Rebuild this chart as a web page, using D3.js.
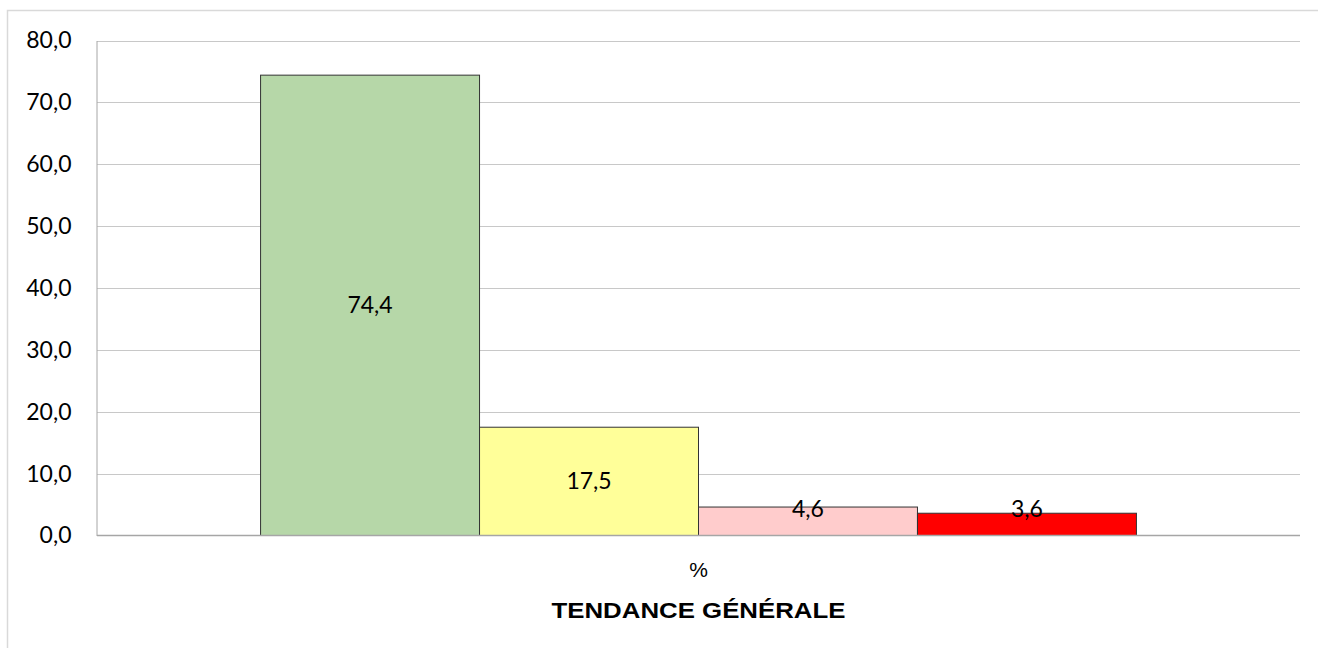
<!DOCTYPE html>
<html><head><meta charset="utf-8">
<script src="https://cdn.jsdelivr.net/npm/d3@7"></script>
<style>body{margin:0;background:#fff}svg{display:block}</style>
</head><body>
<script>
const series = ["S1","S2","S3","S4"];
const values = [74.4, 17.5, 4.6, 3.6];
const colors = ["#b6d7a8","#ffff99","#ffcccc","#ff0000"];
const tickValues = [0,10,20,30,40,50,60,70,80];
const category = "%";
const title = "TENDANCE GÉNÉRALE";

(function(){
const W = 1318, H = 648;
const svg = d3.select("body").append("svg").attr("width", W).attr("height", H);
svg.append("rect").attr("x",7.5).attr("y",10.5).attr("width",W).attr("height",H)
  .attr("fill","#fff").attr("stroke","#d9d9d9").attr("stroke-width",1.5);

const pLeft = 97, pRight = 1300, pTop = 40.5, pBottom = 535.5;
const y = d3.scaleLinear().domain([0,80]).range([pBottom, pTop]);
const x = d3.scaleBand().domain(series).range([pLeft, pRight]).paddingInner(0).paddingOuter(0.747);

const fmt = v => d3.format(".1f")(v).replace(".", ",");
const numFont = "Lato, 'Open Sans', sans-serif";

// gridlines
svg.append("g").selectAll("line").data(tickValues.filter(d=>d>0)).join("line")
  .attr("x1", pLeft).attr("x2", pRight)
  .attr("y1", d => Math.round(y(d))+0.5).attr("y2", d => Math.round(y(d))+0.5)
  .attr("stroke","#c8c8c8").attr("stroke-width",1);

// y axis
const yAxis = d3.axisLeft(y).tickValues(tickValues).tickFormat(fmt).tickSize(0).tickPadding(25);
const gy = svg.append("g").attr("transform",`translate(${pLeft-0.5},0)`).call(yAxis);
gy.select(".domain").attr("stroke","#a6a6a6");
gy.selectAll("text").attr("font-family",numFont).attr("font-size",23).attr("fill","#000");

// bars
svg.append("g").selectAll("rect").data(values).join("rect")
  .attr("x",(d,i)=>x(series[i])).attr("width",x.bandwidth())
  .attr("y",d=>y(d)).attr("height",d=>y(0)-y(d))
  .attr("fill",(d,i)=>colors[i]).attr("stroke","#333").attr("stroke-width",1);

// x axis baseline
svg.append("line").attr("x1",pLeft).attr("x2",pRight).attr("y1",pBottom).attr("y2",pBottom)
  .attr("stroke","#a6a6a6").attr("stroke-width",1.5);

// labels
svg.append("g").selectAll("text").data(values).join("text")
  .attr("x",(d,i)=>x(series[i])+x.bandwidth()/2)
  .attr("y",d=>Math.min((y(d)+y(0))/2, y(0)-27))
  .attr("dy","0.35em").attr("text-anchor","middle")
  .attr("font-family",numFont).attr("font-size",23).attr("fill","#000")
  .text(fmt);

// category label
svg.append("text").attr("x",(pLeft+pRight)/2).attr("y",577)
  .attr("text-anchor","middle").attr("font-family","Liberation Sans, Arial, sans-serif")
  .attr("font-size",21).text(category);
svg.append("text").attr("x",(pLeft+pRight)/2).attr("y",618)
  .attr("text-anchor","middle").attr("font-family","Liberation Sans, Arial, sans-serif")
  .attr("font-weight","bold").attr("font-size",22)
  .attr("textLength",294).attr("lengthAdjust","spacingAndGlyphs").text(title);
})();
</script>
</body></html>
